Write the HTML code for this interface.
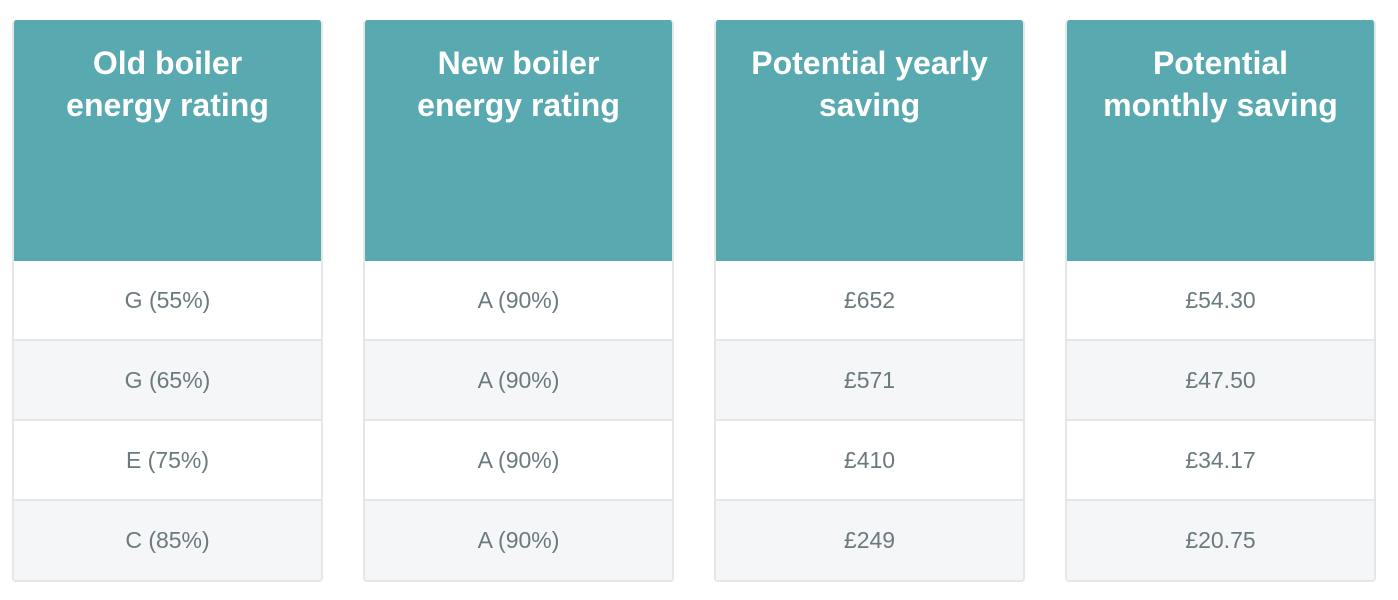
<!DOCTYPE html>
<html><head><meta charset="utf-8"><style>
body{margin:0;width:1398px;height:600px;background:#fff;font-family:"Liberation Sans",sans-serif;position:relative;overflow:hidden}
.col{position:absolute;top:20px;width:311px;height:562px;box-sizing:border-box;border:2px solid #e4e6e8;border-top:none;border-radius:4px;overflow:hidden}
.hd{height:241px;background:#58a9b0;color:#fff;font-weight:bold;font-size:32px;line-height:42px;text-align:center;padding-top:22px;box-sizing:border-box;margin:0 -2px}
.row{height:80px;line-height:78px;text-align:center;font-size:23px;color:#6b7a7e;border-bottom:2px solid #e4e6e8;box-sizing:border-box}
.row:last-child{border-bottom:none}
.alt{background:#f5f6f8}
</style></head><body>
<div class="col" style="left:12px">
<div class="hd">Old boiler<br>energy rating</div>
<div class="row">G (55%)</div>
<div class="row alt">G (65%)</div>
<div class="row">E (75%)</div>
<div class="row alt">C (85%)</div>
</div>
<div class="col" style="left:363px">
<div class="hd">New boiler<br>energy rating</div>
<div class="row">A (90%)</div>
<div class="row alt">A (90%)</div>
<div class="row">A (90%)</div>
<div class="row alt">A (90%)</div>
</div>
<div class="col" style="left:714px">
<div class="hd">Potential yearly<br>saving</div>
<div class="row">£652</div>
<div class="row alt">£571</div>
<div class="row">£410</div>
<div class="row alt">£249</div>
</div>
<div class="col" style="left:1065px">
<div class="hd">Potential<br>monthly saving</div>
<div class="row">£54.30</div>
<div class="row alt">£47.50</div>
<div class="row">£34.17</div>
<div class="row alt">£20.75</div>
</div>
</body></html>
